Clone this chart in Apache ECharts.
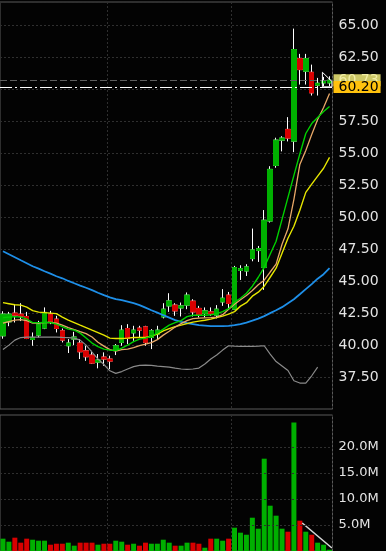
<!DOCTYPE html>
<html><head><meta charset="utf-8">
<script src="https://cdn.jsdelivr.net/npm/echarts@6/dist/echarts.min.js"></script>
<style>html,body{margin:0;padding:0;background:#030303;overflow:hidden}#c{width:386px;height:551px}</style>
</head><body><div id="c"></div>
<script>
// ---- data ----
const opens  = [40.73,41.82,42.50,42.42,42.24,40.44,40.78,41.33,42.42,42.03,41.12,39.95,40.47,40.16,39.55,39.22,38.67,39.06,38.91,39.61,40.21,41.30,40.96,41.33,41.43,40.60,40.86,42.21,43.07,43.13,42.91,43.13,43.44,42.87,42.48,42.60,42.34,43.38,43.91,42.81,45.84,45.80,46.77,47.40,46.07,49.71,54.06,56.04,56.88,55.96,62.42,61.43,61.35,60.34,60.52,60.52];
const closes = [42.42,42.42,42.34,42.27,40.52,40.60,41.64,42.56,41.85,41.30,40.39,40.16,40.63,39.48,39.09,38.59,38.83,38.91,38.75,39.95,41.17,40.52,41.17,41.17,40.21,41.12,41.17,42.81,43.46,42.68,43.07,43.91,42.60,42.40,42.68,42.45,42.81,43.67,43.26,46.07,45.99,46.12,47.45,47.55,49.77,53.75,56.04,56.20,56.20,63.13,61.56,62.42,59.74,60.49,60.70,60.73];
const lows   = [40.50,41.48,41.77,41.88,40.47,39.95,40.60,41.25,41.64,40.99,40.21,39.38,40.00,38.91,38.77,38.52,38.18,38.38,38.12,39.22,39.95,40.08,40.34,40.60,39.95,39.69,40.47,42.09,42.60,42.29,42.24,42.81,42.24,42.16,42.16,42.29,42.09,43.07,42.81,42.76,45.10,45.41,46.56,46.51,44.32,49.59,53.88,55.16,55.94,55.10,60.39,60.39,59.53,59.53,60.26,60.26];
const highs  = [42.65,42.60,43.20,43.28,42.60,40.99,41.90,42.95,42.68,42.29,41.30,40.47,41.04,40.47,39.95,39.55,39.30,39.43,39.17,40.08,41.56,41.64,41.51,41.51,41.51,41.25,41.51,43.28,44.06,43.28,43.33,44.12,43.59,43.07,42.95,42.95,43.13,44.38,44.16,46.20,46.25,46.33,49.12,47.76,50.57,54.00,56.23,56.35,57.84,64.77,62.79,62.79,61.95,60.91,60.99,61.04];
const volumesM = [2.37,1.79,2.56,1.60,2.37,2.17,1.98,1.98,1.21,1.40,1.40,1.60,1.02,1.60,1.60,1.60,1.21,1.40,1.40,1.98,1.79,1.21,1.40,1.02,1.60,1.40,1.40,2.17,1.60,1.02,1.02,1.60,1.60,1.40,0.63,2.37,2.37,1.98,2.37,4.48,3.52,3.13,6.40,4.29,17.75,8.71,6.79,4.29,3.71,24.70,5.83,3.71,3.13,1.60,1.21,0.25];
const maGreen  = [42.15,42.19,42.23,42.19,42.03,41.76,41.76,41.77,41.77,41.64,41.45,41.25,41.17,40.94,40.55,40.16,39.88,39.69,39.61,39.57,39.77,40.00,40.27,40.47,40.55,40.70,40.94,41.25,41.56,41.76,41.91,42.23,42.34,42.34,42.34,42.38,42.46,42.62,42.85,43.36,43.67,44.06,44.61,45.31,46.09,47.11,48.13,49.84,51.56,53.28,54.96,56.56,57.34,57.81,58.28,58.67];
const maTan    = [41.72,41.84,41.95,41.99,41.91,41.72,41.72,41.76,41.77,41.72,41.56,41.37,41.21,41.05,40.90,40.63,40.23,39.92,39.65,39.53,39.65,39.69,39.80,39.96,40.08,40.20,40.43,40.78,41.09,41.41,41.68,41.91,42.07,42.11,42.13,42.15,42.19,42.38,42.81,43.20,43.55,43.88,44.28,44.73,45.08,45.72,46.34,47.89,49.10,51.41,54.14,55.23,56.48,57.66,58.59,59.69];
const maYellow = [43.32,43.24,43.16,43.13,42.97,42.70,42.58,42.54,42.50,42.46,42.19,41.95,41.76,41.56,41.37,41.17,40.98,40.78,40.55,40.52,40.52,40.55,40.59,40.60,40.60,40.70,40.86,41.12,41.29,41.45,41.56,41.68,41.80,41.88,41.95,42.03,42.15,42.27,42.42,42.62,43.05,43.32,43.83,44.14,44.61,45.31,46.02,47.19,48.36,49.30,50.55,51.95,52.60,53.22,53.84,54.69];
const maBlue   = [47.34,47.11,46.88,46.64,46.41,46.17,45.98,45.78,45.59,45.39,45.23,45.02,44.84,44.66,44.49,44.30,44.10,43.91,43.73,43.59,43.52,43.40,43.28,43.13,42.93,42.73,42.54,42.34,42.15,41.95,41.82,41.72,41.64,41.56,41.52,41.48,41.48,41.48,41.51,41.56,41.64,41.76,41.91,42.07,42.27,42.50,42.73,42.97,43.28,43.59,43.98,44.38,44.77,45.20,45.55,46.02];
const grayLine = [39.65,40.00,40.39,40.59,40.63,40.63,40.63,40.63,40.63,40.63,40.60,40.59,40.55,40.39,40.00,39.45,38.91,38.48,37.99,37.79,37.93,38.13,38.32,38.41,38.44,38.41,38.36,38.32,38.28,38.20,38.13,38.10,38.13,38.20,38.52,38.91,39.22,39.61,39.95,39.92,39.90,39.90,39.90,39.92,39.95,39.30,38.71,38.36,38.01,37.21,37.03,37.03,37.60,38.28,null,null];
const priceMin = 35, priceMax = 66.85, priceStep = 2.5;
const volMaxM = 26.15, volStep = 5;
const volGridValues = [5, 10, 15, 20];
const lastPrice = 60.73;
const levelPrice = 60.20;
const volTrend = [[50.4, 5.38], [55.4, 0.58]];
const endMarker = [[53.8, 61.35], [55.4, 60.63], [55.4, 60.21], [53.8, 60.21], [53.8, 61.35]];
const monthBreaks = [18, 39];
const categories = opens.map((_, i) => 'D' + (i + 1));

// ---- chart ----
const UP = '#00b000', DOWN = '#d80000';
const FONT = 'DejaVu Sans';
const gridDash = { color: '#2f2f2f', type: [2, 2], width: 1 };
const fullOHLC = opens.map((o, i) => [o, closes[i], lows[i], highs[i]]);
const bodyOHLC = opens.map((o, i) => [o, closes[i], Math.min(o, closes[i]), Math.max(o, closes[i])]);
const volData = volumesM.map((v, i) => ({ value: v, itemStyle: { color: closes[i] >= opens[i] ? UP : DOWN } }));
const lineS = (data, color, z, w) => ({
  type: 'line', xAxisIndex: 0, yAxisIndex: 0, data, symbol: 'none', silent: true, z,
  lineStyle: { color, width: w }, connectNulls: false
});

const chart = echarts.init(document.getElementById('c'), null, { renderer: 'canvas' });
chart.setOption({
  backgroundColor: '#030303',
  animation: false,
  grid: [
    { left: -2.5, right: 53.5, top: 2, height: 407, show: true, borderColor: '#5a5a5a', borderWidth: 1, backgroundColor: 'transparent' },
    { left: -2.5, right: 53.5, top: 415, bottom: 0, show: true, borderColor: '#5a5a5a', borderWidth: 1, backgroundColor: 'transparent' }
  ],
  xAxis: [
    { type: 'category', gridIndex: 0, data: categories, boundaryGap: true,
      axisLine: { show: false }, axisTick: { show: false }, axisLabel: { show: false },
      splitLine: { show: true, interval: (i) => monthBreaks.includes(i), lineStyle: gridDash } },
    { type: 'category', gridIndex: 1, data: categories, boundaryGap: true,
      axisLine: { show: false }, axisTick: { show: false }, axisLabel: { show: false },
      splitLine: { show: true, interval: (i) => monthBreaks.includes(i), lineStyle: gridDash } },
    { type: 'value', gridIndex: 1, min: -0.5, max: categories.length - 0.5, show: false, position: 'top' },
    { type: 'value', gridIndex: 0, min: -0.5, max: categories.length - 0.5, show: false, position: 'top' }
  ],
  yAxis: [
    { type: 'value', gridIndex: 0, position: 'right', min: priceMin, max: priceMax, interval: priceStep,
      axisLine: { show: false }, axisTick: { show: false },
      splitLine: { show: true, lineStyle: gridDash },
      axisLabel: { color: '#e4e4e4', fontFamily: FONT, fontSize: 14, margin: 6, showMinLabel: false, showMaxLabel: false,
        formatter: (v) => v.toFixed(2) } },
    { type: 'value', gridIndex: 1, position: 'right', min: 0, max: volMaxM, interval: volStep,
      axisLine: { show: false }, axisTick: { show: false }, splitLine: { show: false },
      axisLabel: { color: '#e4e4e4', fontFamily: FONT, fontSize: 13, margin: 6,
        formatter: (v) => (v > 0 && v <= 20.01) ? v.toFixed(1) + 'M' : '' } }
  ],
  series: [
    // wicks (white)
    { type: 'candlestick', xAxisIndex: 0, yAxisIndex: 0, data: fullOHLC, barWidth: 5, silent: true, z: 2,
      itemStyle: { color: '#ffffff', color0: '#ffffff', borderColor: '#ffffff', borderColor0: '#ffffff', borderWidth: 1 } },
    // bodies
    { type: 'candlestick', xAxisIndex: 0, yAxisIndex: 0, data: bodyOHLC, barWidth: 5, silent: true, z: 3,
      itemStyle: { color: UP, color0: DOWN, borderColor: UP, borderColor0: DOWN, borderWidth: 1 },
      markLine: {
        silent: true, symbol: ['none', 'none'], animation: false,
        data: [
          { yAxis: lastPrice, lineStyle: { color: '#5e5e5e', type: [7, 3], width: 1 },
            label: { show: true, position: 'end', distance: 1, formatter: lastPrice.toFixed(2), color: '#f2eea6',
              backgroundColor: '#cdc867', fontFamily: FONT, fontSize: 14, lineHeight: 12, padding: [0, 2, 0, 5] } },
          { yAxis: levelPrice, lineStyle: { color: '#ffffff', type: [12, 3, 2, 3], width: 1 },
            label: { show: true, position: 'end', distance: 1, formatter: levelPrice.toFixed(2), color: '#000000',
              backgroundColor: '#ffc20e', fontFamily: FONT, fontSize: 14, lineHeight: 12, padding: [0, 2, 0, 5] } }
        ]
      } },
    lineS(grayLine, '#8a8a8a', 4, 1.2),
    lineS(maBlue, '#1e8fe8', 4, 1.8),
    lineS(maYellow, '#e6e600', 4, 1.4),
    lineS(maTan, '#e8a868', 5, 1.3),
    lineS(maGreen, '#00d000', 6, 1.4),
    { type: 'line', xAxisIndex: 3, yAxisIndex: 0, data: endMarker, symbol: 'none', silent: true, z: 7,
      lineStyle: { color: '#ffffff', width: 1 } },
    // volume gridlines
    { type: 'line', xAxisIndex: 1, yAxisIndex: 1, data: [], silent: true, z: 1,
      markLine: { silent: true, symbol: ['none', 'none'], label: { show: false }, animation: false,
        lineStyle: gridDash, data: volGridValues.map((v) => ({ yAxis: v })) } },
    { type: 'bar', xAxisIndex: 1, yAxisIndex: 1, data: volData, barWidth: 5, silent: true, z: 2 },
    { type: 'line', xAxisIndex: 2, yAxisIndex: 1, data: volTrend, symbol: 'none', silent: true, z: 3,
      lineStyle: { color: '#d8d8d8', width: 1.5 } }
  ]
});
</script>
</body></html>
